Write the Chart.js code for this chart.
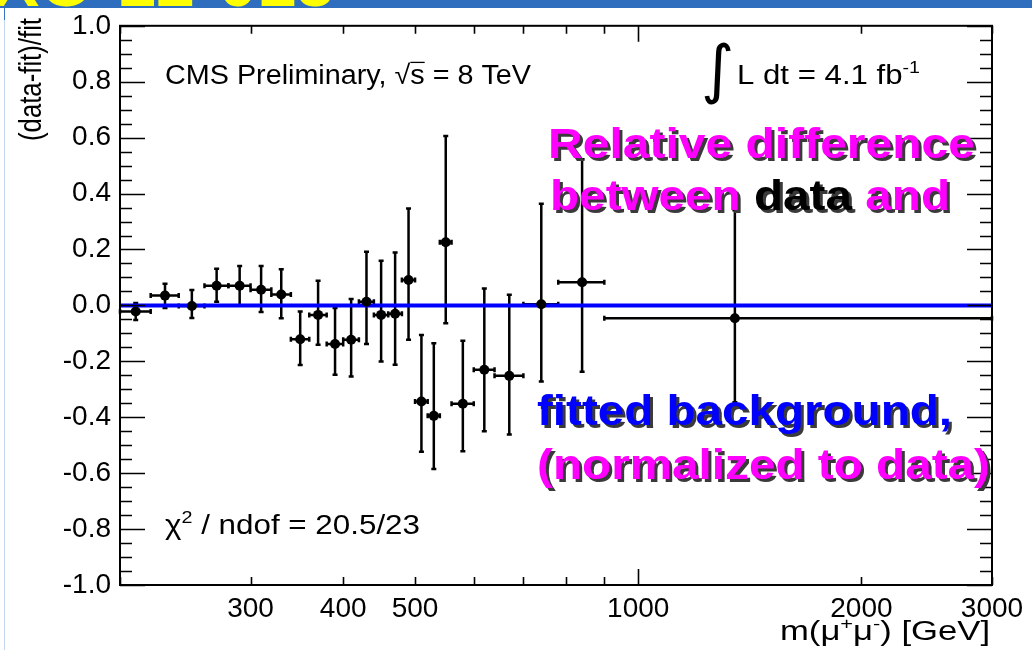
<!DOCTYPE html>
<html><head><meta charset="utf-8">
<script src="https://cdn.jsdelivr.net/npm/chart.js@4.4.1/dist/chart.umd.min.js"></script>
<style>html,body{margin:0;padding:0;background:#fff;}#wrap{width:1032px;height:650px;position:relative;}</style>
</head><body><div id="wrap"><canvas id="c" width="1032" height="650"></canvas></div>
<script>
// ---- data ----
const binLow   = [200,220,240,260,280,300,320,340,360,380,400,420,440,460,480,500,520,540,560,600,640,700,780,900];
const binHigh  = [220,240,260,280,300,320,340,360,380,400,420,440,460,480,500,520,540,560,600,640,700,780,900,3000];
const massCenter = [210,230,250,270,290,310,330,350,370,390,410,430,450,470,490,510,530,550,580,620,670,740,840,1350];
const ratio    = [-0.022,0.035,-0.002,0.070,0.070,0.056,0.039,-0.121,-0.034,-0.138,-0.123,0.013,-0.034,-0.030,0.091,-0.344,-0.395,0.226,-0.352,-0.230,-0.252,0.004,0.083,-0.046];
const errUp    = [0.031,0.042,0.057,0.061,0.071,0.085,0.090,0.099,0.122,0.129,0.146,0.179,0.194,0.219,0.256,0.238,0.260,0.380,0.226,0.290,0.290,0.360,0.440,0.386];
const errDown  = [0.030,0.044,0.043,0.057,0.071,0.080,0.085,0.092,0.107,0.110,0.131,0.151,0.167,0.182,0.214,0.179,0.190,0.290,0.170,0.220,0.210,0.276,0.320,0.300];
const fitLevel = [0, 0];
const xTickLabels = [300,400,500,1000,2000,3000];
const yTickLabels = [-1.0,-0.8,-0.6,-0.4,-0.2,0.0,0.2,0.4,0.6,0.8,1.0];
const xRange = [200, 3000];
const yRange = [-1, 1];

const FAM = '"Liberation Sans", Arial, Helvetica, sans-serif';
const MAG = '#ff00ff';

function rich(ctx, segs, x, y, opt){
  const w8 = opt.weight || 'normal';
  const baseF = `${w8} ${opt.size}px ${FAM}`;
  const supF = `${w8} ${Math.round(opt.size*0.62)}px ${FAM}`;
  const ws = []; let total = 0;
  segs.forEach(s => { ctx.font = s.sup ? supF : baseF; const w = ctx.measureText(s.t).width; ws.push(w); total += w; });
  const sx = opt.width ? opt.width/total : 1;
  const startX = opt.align === 'right' ? x - total*sx : x;
  ctx.save();
  ctx.translate(startX, y); ctx.scale(sx, 1);
  ctx.textBaseline = 'alphabetic'; ctx.textAlign = 'left';
  if (opt.shadow){ ctx.shadowColor = opt.shadow; ctx.shadowOffsetX = opt.sh; ctx.shadowOffsetY = opt.sh; ctx.shadowBlur = 0; }
  let cx = 0;
  segs.forEach((s,i) => {
    ctx.font = s.sup ? supF : baseF;
    ctx.fillStyle = s.color || opt.color || '#000';
    ctx.fillText(s.t, cx, s.sup ? -opt.size*0.42 : 0);
    if (s.over){
      ctx.strokeStyle = ctx.fillStyle; ctx.lineWidth = 1.3;
      ctx.beginPath(); ctx.moveTo(cx, -opt.size*0.8); ctx.lineTo(cx+ws[i], -opt.size*0.8); ctx.stroke();
    }
    cx += ws[i];
  });
  ctx.restore();
}

const errorBars = {
  id: 'errorBars',
  beforeDatasetsDraw(chart){
    const {ctx, scales:{x, y}} = chart;
    ctx.save();
    ctx.strokeStyle = '#000'; ctx.lineWidth = 2.5; ctx.lineCap = 'butt';
    massCenter.forEach((m, i) => {
      const px = x.getPixelForValue(m), py = y.getPixelForValue(ratio[i]);
      const xl = x.getPixelForValue(binLow[i]), xh = x.getPixelForValue(binHigh[i]);
      const yt = y.getPixelForValue(ratio[i] + errUp[i]), yb = y.getPixelForValue(ratio[i] - errDown[i]);
      ctx.beginPath();
      ctx.moveTo(xl, py); ctx.lineTo(xh, py);
      ctx.moveTo(px, yt); ctx.lineTo(px, yb);
      ctx.moveTo(px-2.5, yt); ctx.lineTo(px+2.5, yt);
      ctx.moveTo(px-2.5, yb); ctx.lineTo(px+2.5, yb);
      ctx.moveTo(xl, py-2.5); ctx.lineTo(xl, py+2.5);
      ctx.moveTo(xh, py-2.5); ctx.lineTo(xh, py+2.5);
      ctx.stroke();
    });
    ctx.restore();
  }
};

const frameTicks = {
  id: 'frameTicks',
  afterDatasetsDraw(chart){
    const {ctx, chartArea:a, scales:{x, y}} = chart;
    ctx.save();
    ctx.strokeStyle = '#000'; ctx.lineWidth = 1.6;
    ctx.beginPath();
    for (let i = 0; i <= 40; i++){
      const v = yRange[0] + i*0.05;
      const py = Math.round(y.getPixelForValue(v)) + 0.5;
      const L = (i % 4 === 0) ? 25 : 12;
      ctx.moveTo(a.left, py); ctx.lineTo(a.left + L, py);
      ctx.moveTo(a.right, py); ctx.lineTo(a.right - L, py);
    }
    const xt = [];
    for (let v = 200; v <= 1000; v += 100) xt.push(v);
    xt.push(2000, 3000);
    xt.forEach(v => {
      const px = Math.round(x.getPixelForValue(v)) + 0.5;
      const L = (v === 1000) ? 16 : 8;
      ctx.moveTo(px, a.bottom); ctx.lineTo(px, a.bottom - L);
      ctx.moveTo(px, a.top); ctx.lineTo(px, a.top + L);
    });
    ctx.stroke();
    ctx.lineWidth = 2;
    ctx.strokeRect(a.left, a.top, a.right - a.left, a.bottom - a.top);
    ctx.restore();
  }
};

const texts = {
  id: 'texts',
  afterDraw(chart){
    const ctx = chart.ctx;
    // header band
    ctx.save();
    ctx.fillStyle = '#2f6ebf'; ctx.fillRect(0, 0, 1032, 8);
    ctx.beginPath(); ctx.rect(0, 0, 1032, 8); ctx.clip();
    ctx.fillStyle = '#ffff00'; ctx.font = `bold 70px ${FAM}`; ctx.textAlign = 'right'; ctx.textBaseline = 'alphabetic';
    ctx.fillText('EXO-12-015', 335, 6);
    ctx.restore();
    ctx.save();
    ctx.fillStyle = '#c4d5ee'; ctx.fillRect(4, 8, 1, 642);
    ctx.fillStyle = '#3a72c4'; ctx.fillRect(4, 8, 1, 12);
    ctx.restore();

    // plot labels
    rich(ctx, [{t:'CMS Preliminary, '},{t:'√'},{t:'s', over:true},{t:' = 8 TeV'}], 165, 84, {size:27, width:366});
    ctx.save(); ctx.fillStyle = '#000'; ctx.font = `64px "DejaVu Sans"`; ctx.textAlign = 'left';
    ctx.fillText('∫', 701, 91); ctx.restore();
    rich(ctx, [{t:'L dt = 4.1 fb'},{t:'-1', sup:true}], 737, 84, {size:27, width:183});
    rich(ctx, [{t:'χ'},{t:'2', sup:true},{t:' / ndof = 20.5/23'}], 165, 534, {size:27, width:255});
    rich(ctx, [{t:'m(μ'},{t:'+', sup:true},{t:'μ'},{t:'-', sup:true},{t:') [GeV]'}], 990, 640, {size:27, width:210, align:'right'});
    ctx.save(); ctx.translate(41, 141); ctx.rotate(-Math.PI/2);
    rich(ctx, [{t:'(data-fit)/fit'}], 0, 0, {size:31, width:123});
    ctx.restore();

    // overlay annotations
    const big = {size:42, weight:'bold', shadow:'#3a3a3a', sh:3};
    rich(ctx, [{t:'Relative difference', color:MAG}], 548, 158, Object.assign({width:427}, big));
    rich(ctx, [{t:'between ', color:MAG},{t:'data', color:'#000'},{t:' and', color:MAG}], 550, 210, Object.assign({width:400}, big));
    rich(ctx, [{t:'fitted background,', color:'#0000ff'}], 537, 425, Object.assign({width:415}, big));
    rich(ctx, [{t:'(normalized to data)', color:MAG}], 537, 479, Object.assign({width:453}, big));
  }
};

new Chart(document.getElementById('c'), {
  type: 'scatter',
  data: {
    datasets: [
      { type:'scatter', label:'data', order:0,
        data: massCenter.map((m,i) => ({x:m, y:ratio[i]})),
        pointRadius:5, pointHoverRadius:5, backgroundColor:'#000', borderColor:'#000', borderWidth:0 },
      { type:'line', label:'fit', order:1,
        data: xRange.map((v,i) => ({x:v, y:fitLevel[i]})),
        borderColor:'#0000ff', borderWidth:4, pointRadius:0, fill:false, tension:0 }
    ]
  },
  options: {
    responsive:false, animation:false, devicePixelRatio:1,
    layout: { padding: { left:0, right:40, top:25, bottom:0 } },
    plugins: { legend:{display:false}, tooltip:{enabled:false} },
    scales: {
      x: { type:'logarithmic', position:'bottom', min:xRange[0], max:xRange[1],
           grid:{display:false, drawTicks:false}, border:{display:false},
           ticks:{ font:{family:FAM, size:28}, color:'#000', padding:7, autoSkip:false, maxRotation:0, minRotation:0,
                   callback:(v) => String(v) },
           afterBuildTicks:(s) => { s.ticks = xTickLabels.map(v => ({value:v})); },
           afterFit:(s) => { s.height = 65; } },
      y: { type:'linear', min:yRange[0], max:yRange[1],
           grid:{display:false, drawTicks:false}, border:{display:false},
           ticks:{ font:{family:FAM, size:28}, color:'#000', padding:9, autoSkip:false,
                   callback:(v) => Number(v).toFixed(1) },
           afterBuildTicks:(s) => { s.ticks = yTickLabels.map(v => ({value:v})); },
           afterFit:(s) => { s.width = 120; } }
    }
  },
  plugins: [errorBars, frameTicks, texts]
});
</script>
</body></html>
